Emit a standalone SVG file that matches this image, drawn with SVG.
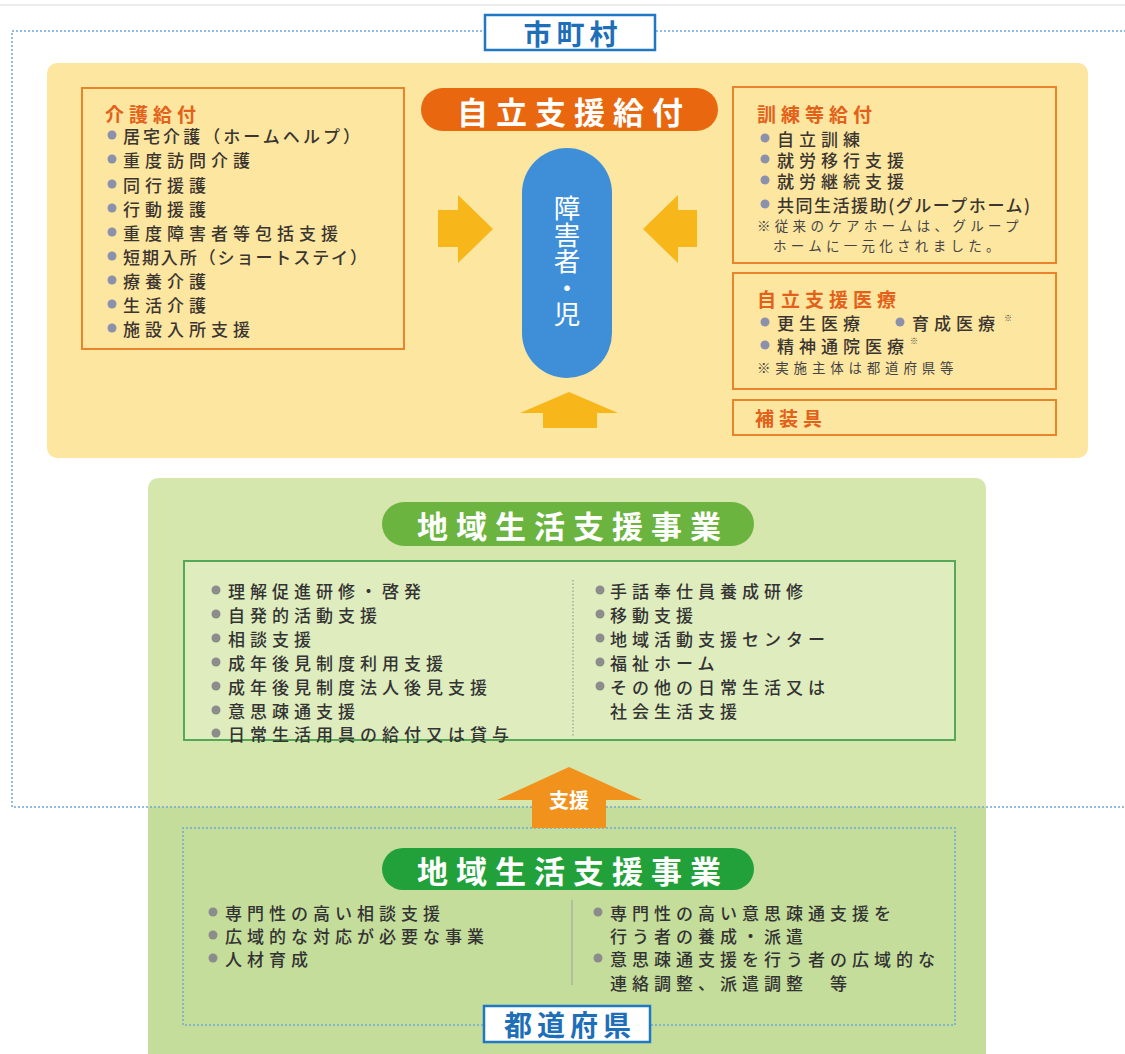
<svg xmlns="http://www.w3.org/2000/svg" width="1125" height="1054" viewBox="0 0 1125 1054">
<style>
text{font-family:"Noto Sans CJK JP","Noto Sans",sans-serif;dominant-baseline:central}
.it{font-size:17px;fill:#333;letter-spacing:5px;font-weight:500}
.ty{font-size:17px;fill:#3a3530;letter-spacing:5px;font-weight:500}
.ttl{font-size:19px;font-weight:bold;fill:#e2611b;letter-spacing:5px}
.note{font-size:13.5px;fill:#444;letter-spacing:3.5px}
.bb{fill:#8b90ab}
.bg{fill:#8c8c8c}
.obox{fill:none;stroke:#e8852c;stroke-width:2}
.dot{fill:none;stroke:#6ea8d8;stroke-width:1.5;stroke-dasharray:2 2}
.lbl{fill:#fff;stroke:#1f78c1;stroke-width:2.5}
.lblt{font-size:28px;font-weight:bold;fill:#1e6fb8;letter-spacing:5px;text-anchor:middle}
.pillt{font-size:31px;font-weight:bold;fill:#fff;letter-spacing:8px;text-anchor:middle}
.yarr{fill:#f7b619}
</style>
<line x1="0" y1="5" x2="1125" y2="5" stroke="#e6e6e6" stroke-width="1.5"/>
<g id="jiritsu-area">
<rect x="47" y="63" width="1041" height="395" rx="10" fill="#fde6a0"/>
</g>
<g id="chiiki-area">
<path d="M148,807 V488 a10,10 0 0 1 10,-10 H976 a10,10 0 0 1 10,10 V807 Z" fill="#d6e7ae"/>
<rect x="148" y="807" width="838" height="247" fill="#c5dd9b"/>
</g>
<g id="shichoson-area">
<path class="dot" d="M1130,31 H12 V807 H1130"/>
</g>
<g id="label-shichoson">
<rect class="lbl" x="485" y="15" width="170" height="35"/>
<text class="lblt" x="573" y="33">市町村</text>
</g>
<g id="kaigo">
<rect class="obox" x="82" y="88" width="322" height="261"/>
<text class="ttl" x="105" y="113">介護給付</text>
<circle class="bb" cx="112" cy="135" r="4.5"/><text class="ty" x="123" y="135" textLength="242" lengthAdjust="spacing">居宅介護（ホームヘルプ）</text>
<circle class="bb" cx="112" cy="159" r="4.5"/><text class="ty" x="123" y="159">重度訪問介護</text>
<circle class="bb" cx="112" cy="184" r="4.5"/><text class="ty" x="123" y="184">同行援護</text>
<circle class="bb" cx="112" cy="208" r="4.5"/><text class="ty" x="123" y="208">行動援護</text>
<circle class="bb" cx="112" cy="232" r="4.5"/><text class="ty" x="123" y="232">重度障害者等包括支援</text>
<circle class="bb" cx="112" cy="256" r="4.5"/><text class="ty" x="123" y="256" textLength="249" lengthAdjust="spacing">短期入所（ショートステイ）</text>
<circle class="bb" cx="112" cy="280" r="4.5"/><text class="ty" x="123" y="280">療養介護</text>
<circle class="bb" cx="112" cy="304" r="4.5"/><text class="ty" x="123" y="304">生活介護</text>
<circle class="bb" cx="112" cy="328" r="4.5"/><text class="ty" x="123" y="328">施設入所支援</text>
</g>
<g id="jiritsu-title">
<rect x="421" y="88" width="297" height="43" rx="21.5" fill="#e8670f"/>
<text class="pillt" x="574" y="110">自立支援給付</text>
</g>
<g id="shogaisha">
<rect x="522" y="148" width="90" height="230" rx="45" fill="#3e8fd8"/>
<text x="567" y="261" font-size="26.5" fill="#fff" text-anchor="middle" writing-mode="vertical-rl">障害者・児</text>
</g>
<g id="kunren">
<rect class="obox" x="733" y="87" width="323" height="176"/>
<text class="ttl" x="757" y="113">訓練等給付</text>
<circle class="bb" cx="765" cy="138" r="4.5"/><text class="ty" x="777" y="138">自立訓練</text>
<circle class="bb" cx="765" cy="159" r="4.5"/><text class="ty" x="777" y="159">就労移行支援</text>
<circle class="bb" cx="765" cy="180" r="4.5"/><text class="ty" x="777" y="180">就労継続支援</text>
<circle class="bb" cx="765" cy="204" r="4.5"/><text class="ty" x="777" y="204" textLength="258" lengthAdjust="spacing">共同生活援助(グループホーム)</text>
<text class="note" x="757" y="225" textLength="265" lengthAdjust="spacing">※従来のケアホームは、グループ</text>
<text class="note" x="773" y="245" textLength="230" lengthAdjust="spacing">ホームに一元化されました。</text>
</g>
<g id="iryo">
<rect class="obox" x="733" y="273" width="323" height="116"/>
<text class="ttl" x="757" y="298">自立支援医療</text>
<circle class="bb" cx="765" cy="322" r="4.5"/><text class="ty" x="777" y="322">更生医療</text>
<circle class="bb" cx="900" cy="322" r="4.5"/><text class="ty" x="912" y="322">育成医療</text><text x="1004" y="317" font-size="8" fill="#444">※</text>
<circle class="bb" cx="765" cy="345" r="4.5"/><text class="ty" x="777" y="345">精神通院医療</text><text x="910" y="340" font-size="8" fill="#444">※</text>
<text class="note" x="757" y="367" textLength="200" lengthAdjust="spacing">※実施主体は都道府県等</text>
</g>
<g id="hosogu">
<rect class="obox" x="733" y="400" width="323" height="35"/>
<text class="ttl" x="755" y="417">補装具</text>
</g>
<g id="chiiki-title">
<rect x="382" y="502" width="372" height="44" rx="22" fill="#6cb440"/>
<text class="pillt" x="573" y="524">地域生活支援事業</text>
</g>
<g id="chiiki-list">
<rect x="184" y="561" width="771" height="179" fill="#deecbe" stroke="#55a857" stroke-width="2"/>
<line x1="573" y1="580" x2="573" y2="737" stroke="#9a9a9a" stroke-width="1.2" stroke-dasharray="1.5 2"/>
<circle class="bg" cx="216" cy="590" r="4.5"/><text class="it" x="228" y="590">理解促進研修・啓発</text>
<circle class="bg" cx="216" cy="614" r="4.5"/><text class="it" x="228" y="614">自発的活動支援</text>
<circle class="bg" cx="216" cy="638" r="4.5"/><text class="it" x="228" y="638">相談支援</text>
<circle class="bg" cx="216" cy="662" r="4.5"/><text class="it" x="228" y="662">成年後見制度利用支援</text>
<circle class="bg" cx="216" cy="686" r="4.5"/><text class="it" x="228" y="686">成年後見制度法人後見支援</text>
<circle class="bg" cx="216" cy="710" r="4.5"/><text class="it" x="228" y="710">意思疎通支援</text>
<circle class="bg" cx="216" cy="733" r="4.5"/><text class="it" x="228" y="733">日常生活用具の給付又は貸与</text>
<circle class="bg" cx="600" cy="590" r="4.5"/><text class="it" x="610" y="590">手話奉仕員養成研修</text>
<circle class="bg" cx="600" cy="614" r="4.5"/><text class="it" x="610" y="614">移動支援</text>
<circle class="bg" cx="600" cy="638" r="4.5"/><text class="it" x="610" y="638">地域活動支援センター</text>
<circle class="bg" cx="600" cy="662" r="4.5"/><text class="it" x="610" y="662">福祉ホーム</text>
<circle class="bg" cx="600" cy="686" r="4.5"/><text class="it" x="610" y="686">その他の日常生活又は</text>
<text class="it" x="610" y="710">社会生活支援</text>
</g>
<g id="todofuken-area">
<path class="dot" d="M483,1025 H183 V828 H955 V1025 H651"/>
<rect x="382" y="848" width="372" height="42" rx="21" fill="#22a13b"/>
<text class="pillt" x="573" y="869">地域生活支援事業</text>
<line x1="572" y1="900" x2="572" y2="985" stroke="#a8a8a0" stroke-width="1.2"/>
<circle class="bg" cx="213" cy="912" r="4.5"/><text class="it" x="225" y="912">専門性の高い相談支援</text>
<circle class="bg" cx="213" cy="935" r="4.5"/><text class="it" x="225" y="935">広域的な対応が必要な事業</text>
<circle class="bg" cx="213" cy="958" r="4.5"/><text class="it" x="225" y="958">人材育成</text>
<circle class="bg" cx="598" cy="912" r="4.5"/><text class="it" x="610" y="912">専門性の高い意思疎通支援を</text>
<text class="it" x="610" y="935">行う者の養成・派遣</text>
<circle class="bg" cx="598" cy="958" r="4.5"/><text class="it" x="610" y="958">意思疎通支援を行う者の広域的な</text>
<text class="it" x="610" y="982">連絡調整、派遣調整　等</text>
</g>
<g id="label-todofuken">
<rect class="lbl" x="484" y="1006" width="166" height="36"/>
<text class="lblt" x="570" y="1024">都道府県</text>
</g>
<g id="connectors">
<path class="yarr" d="M438,210 H458 V195 L493,229 L458,263 V247 H438 Z"/>
<path class="yarr" d="M697,210 H678 V195 L643,229 L678,263 V247 H697 Z"/>
<path class="yarr" d="M543,428 V413 H520 L569,392 L618,413 H597 V428 Z"/>
<path d="M532,828 V800 H497 L569,767 L642,800 H606 V828 Z" fill="#f0921c"/>
<text x="569" y="799" font-size="20" font-weight="bold" fill="#fff" text-anchor="middle">支援</text>
</g>
</svg>
